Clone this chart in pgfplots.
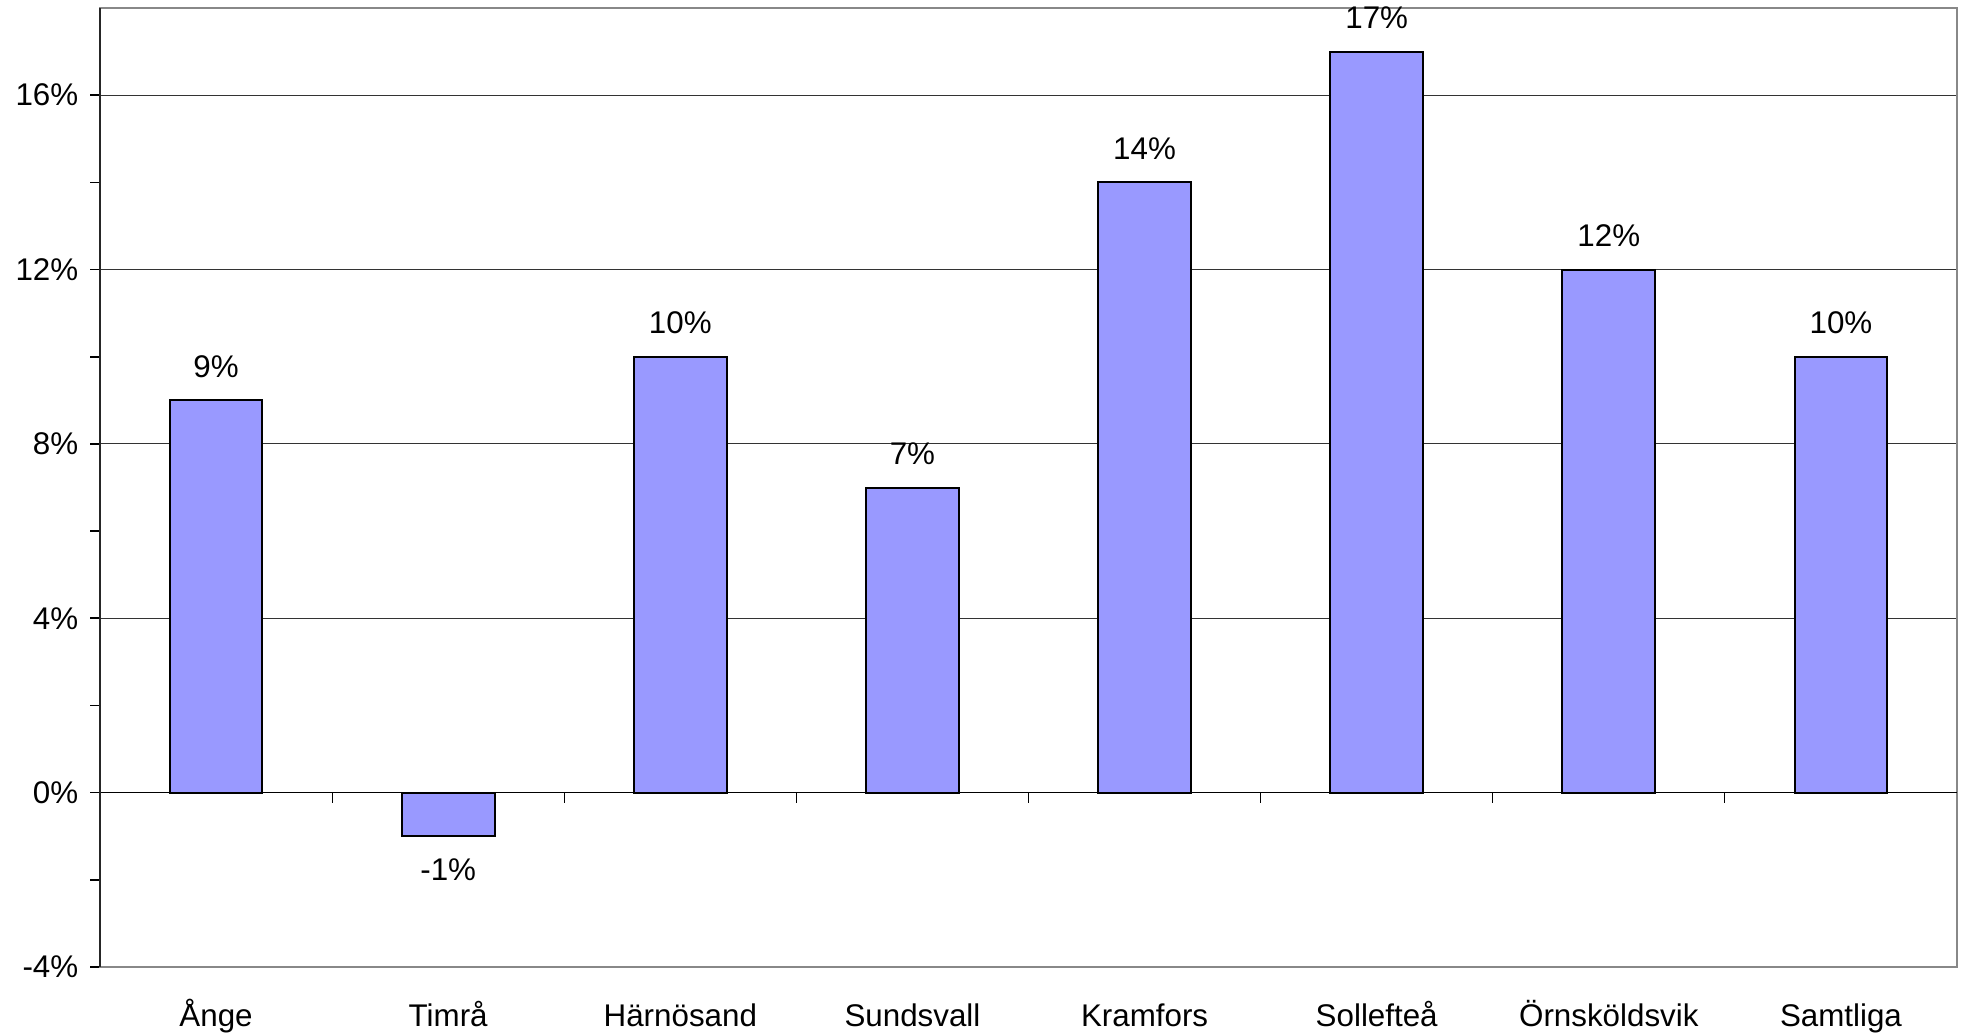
\documentclass[border=0pt]{standalone}
\usepackage{fontspec}
\setmainfont{Liberation Sans}
\usepackage{pgfplots}
\pgfplotsset{compat=1.18}

\definecolor{barfill}{HTML}{9999FF}
\definecolor{frame}{HTML}{888888}

\begin{document}
\begin{tikzpicture}
\begin{axis}[
    scale only axis,
    width=557.1pt, height=287.7pt,
    ybar, bar width=0.4,
    xmin=-0.5, xmax=7.5,
    ymin=-4, ymax=18,
    xtick={0,...,7},
    xticklabels={Ånge,Timrå,Härnösand,Sundsvall,Kramfors,Sollefteå,Örnsköldsvik,Samtliga},
    major x tick style={draw=none},
    xticklabel style={anchor=base, yshift=-14.7pt},
    ytick={-4,0,...,16},
    minor y tick num=1,
    yticklabel={\pgfmathprintnumber{\tick}\%},
    ymajorgrids,
    major grid style={line width=0.3pt, black!80},
    tick align=outside,
    major tick length=3pt, minor tick length=3pt,
    y tick style={line width=0.5pt, black},
    ytick pos=left,
    axis line style={frame, line width=0.6pt},
    tick label style={font=\fontsize{9.4}{11}\selectfont},
    /pgf/number format/assume math mode=true,
    nodes near coords={\pgfmathprintnumber{\pgfplotspointmeta}\%},
    every node near coord/.append style={font=\fontsize{9.4}{11}\selectfont, inner ysep=6.5pt},
    clip=false,
]
\addplot[fill=barfill, draw=black, line width=0.6pt] coordinates {
    (0,9) (1,-1) (2,10) (3,7) (4,14) (5,17) (6,12) (7,10)
};
\draw[black, line width=0.3pt] (axis cs:-0.5,0) -- (axis cs:7.5,0);
\pgfplotsinvokeforeach{0.5,1.5,2.5,3.5,4.5,5.5,6.5}{
    \draw[black, line width=0.3pt] (axis cs:#1,0) -- ([yshift=-3pt]axis cs:#1,0);
}
\draw[black!85, line width=0.6pt] (rel axis cs:0,0) -- (rel axis cs:0,1);
\coordinate (ll) at (rel axis cs:0,0);
\coordinate (ur) at (rel axis cs:1,1);
\end{axis}
\pgfresetboundingbox
\path ([shift={(-30pt,-20.4pt)}]ll) rectangle ([shift={(1.2pt,2.4pt)}]ur);
\end{tikzpicture}
\end{document}
